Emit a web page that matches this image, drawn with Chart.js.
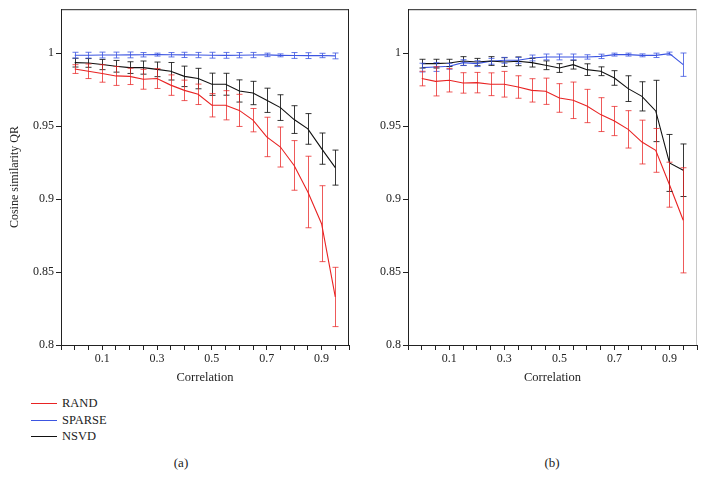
<!DOCTYPE html>
<html>
<head>
<meta charset="utf-8">
<script src="https://cdn.jsdelivr.net/npm/chart.js@4.4.1/dist/chart.umd.min.js"></script>
<style>
  body { margin: 0; background: #fff; width: 705px; height: 478px; overflow: hidden; position: relative; font-family: 'Liberation Serif', serif; color: #222; }
  .panel { position: absolute; top: 0; height: 392px; }
  #panelA { left: 0; width: 352px; }
  #panelB { left: 352px; width: 353px; }
  .legend { position: absolute; left: 31px; top: 395px; font-size: 12.5px; }
  .legend div { height: 16.5px; line-height: 16.5px; position: relative; padding-left: 31px; }
  .legend span { position: absolute; left: 0; top: 8px; width: 26px; height: 1px; }
  .caption { position: absolute; top: 455px; font-size: 13px; width: 40px; text-align: center; }
</style>
</head>
<body>
<div class="panel" id="panelA"><canvas id="chartA"></canvas></div>
<div class="panel" id="panelB"><canvas id="chartB"></canvas></div>

<div class="legend">
  <div><span style="background:rgb(232,35,35)"></span>RAND</div>
  <div><span style="background:rgb(60,85,225)"></span>SPARSE</div>
  <div><span style="background:#111"></span>NSVD</div>
</div>
<div class="caption" style="left:161px">(a)</div>
<div class="caption" style="left:532px">(b)</div>

<script>
// x values (correlation) and axis ticks
const correlation = [0, 0.05, 0.1, 0.15, 0.2, 0.25, 0.3, 0.35, 0.4, 0.45, 0.5, 0.55, 0.6, 0.65, 0.7, 0.75, 0.8, 0.85, 0.9, 0.95];
const xTicks = [-0.05, 0, 0.05, 0.1, 0.15, 0.2, 0.25, 0.3, 0.35, 0.4, 0.45, 0.5, 0.55, 0.6, 0.65, 0.7, 0.75, 0.8, 0.85, 0.9, 0.95, 1.0];
const xLabels = ['0.1', '0.3', '0.5', '0.7', '0.9'];
const yTicks = [0.8, 0.85, 0.9, 0.95, 1];

// panel (a)
const randA = [0.989, 0.9875, 0.986, 0.9843, 0.984, 0.982, 0.9825, 0.978, 0.9744, 0.9717, 0.9642, 0.9642, 0.9607, 0.954, 0.9425, 0.9356, 0.923, 0.9048, 0.8831, 0.8329];
const randAErr = [0.003, 0.005, 0.006, 0.0065, 0.0056, 0.0068, 0.0068, 0.007, 0.007, 0.007, 0.008, 0.01, 0.011, 0.008, 0.0135, 0.0137, 0.017, 0.0245, 0.026, 0.0203];
const sparseA = [0.9985, 0.9985, 0.9986, 0.9986, 0.9987, 0.9988, 0.9989, 0.9988, 0.9987, 0.9986, 0.9985, 0.9984, 0.9985, 0.9986, 0.9987, 0.9984, 0.9983, 0.9982, 0.9983, 0.998];
const sparseAErr = [0.002, 0.002, 0.002, 0.002, 0.002, 0.0015, 0.001, 0.0015, 0.0018, 0.0018, 0.002, 0.002, 0.0018, 0.0018, 0.0012, 0.001, 0.002, 0.002, 0.0015, 0.002];
const nsvdA = [0.9934, 0.9932, 0.9921, 0.9909, 0.990, 0.990, 0.9888, 0.9875, 0.984, 0.9825, 0.9786, 0.9786, 0.974, 0.9726, 0.9676, 0.9626, 0.9544, 0.948, 0.9345, 0.9215];
const nsvdAErr = [0.003, 0.003, 0.0035, 0.004, 0.004, 0.0045, 0.005, 0.006, 0.007, 0.007, 0.0076, 0.0075, 0.0076, 0.008, 0.0083, 0.0088, 0.0095, 0.0105, 0.0107, 0.012];

// panel (b)
const randB = [0.9825, 0.9806, 0.9813, 0.9795, 0.9797, 0.9786, 0.9786, 0.9767, 0.9744, 0.9738, 0.9692, 0.9676, 0.9637, 0.9578, 0.9534, 0.9477, 0.939, 0.9333, 0.9098, 0.8854];
const randBErr = [0.005, 0.01, 0.008, 0.007, 0.007, 0.0078, 0.0088, 0.0077, 0.008, 0.009, 0.0098, 0.0125, 0.0114, 0.0116, 0.01, 0.0128, 0.015, 0.015, 0.0154, 0.036];
const sparseB = [0.990, 0.9904, 0.9909, 0.9934, 0.9927, 0.9943, 0.995, 0.995, 0.9966, 0.9973, 0.9973, 0.9973, 0.9973, 0.9977, 0.9989, 0.9989, 0.9984, 0.9984, 0.9996, 0.992];
const sparseBErr = [0.003, 0.003, 0.002, 0.002, 0.002, 0.002, 0.002, 0.002, 0.002, 0.002, 0.002, 0.002, 0.0015, 0.0015, 0.001, 0.001, 0.001, 0.0015, 0.001, 0.008];
const nsvdB = [0.9927, 0.9927, 0.9932, 0.9945, 0.9938, 0.9945, 0.9938, 0.9943, 0.9934, 0.9916, 0.9897, 0.992, 0.9886, 0.9875, 0.9829, 0.9756, 0.9703, 0.9603, 0.9247, 0.9197];
const nsvdBErr = [0.003, 0.003, 0.0025, 0.003, 0.0025, 0.003, 0.003, 0.003, 0.003, 0.003, 0.003, 0.003, 0.004, 0.003, 0.005, 0.0088, 0.01, 0.021, 0.0195, 0.018];

Chart.defaults.font.family = "'Liberation Serif', serif";
Chart.defaults.font.size = 12;
Chart.defaults.color = '#222';

// error bars drawn from the dataset's errors through the scales
const errorBars = {
    id: 'errorBars',
    afterDatasetsDraw(chart) {
        const ctx = chart.ctx;
        const xs = chart.scales.x, ys = chart.scales.y;
        chart.data.datasets.forEach(ds => {
            ctx.save();
            ctx.strokeStyle = ds.barColor;
            ctx.lineWidth = 1;
            ds.data.forEach((p, i) => {
                const e = ds.errors[i];
                const x = Math.round(xs.getPixelForValue(p.x)) + 0.5;
                const y1 = ys.getPixelForValue(p.y + e);
                const y2 = ys.getPixelForValue(p.y - e);
                ctx.beginPath();
                ctx.moveTo(x, y1); ctx.lineTo(x, y2);
                ctx.moveTo(x - 3, y1); ctx.lineTo(x + 3, y1);
                ctx.moveTo(x - 3, y2); ctx.lineTo(x + 3, y2);
                ctx.stroke();
            });
            ctx.restore();
        });
    }
};

// top and right edges of the frame
const frame = {
    id: 'frame',
    afterDraw(chart, args, opts) {
        const a = chart.chartArea, ctx = chart.ctx;
        ctx.save();
        ctx.lineWidth = 1;
        ctx.strokeStyle = '#222';
        ctx.beginPath();
        ctx.moveTo(a.left, a.top + 0.5); ctx.lineTo(a.right, a.top + 0.5);
        ctx.stroke();
        ctx.strokeStyle = opts.rightColor;
        ctx.beginPath();
        ctx.moveTo(a.right - 0.5, a.top); ctx.lineTo(a.right - 0.5, a.bottom);
        ctx.stroke();
        ctx.restore();
    }
};

function series(values) {
    return values.map((v, i) => ({ x: correlation[i], y: v }));
}

function makeChart(id, rand, randErr, sparse, sparseErr, nsvd, nsvdErr, opt) {
    const ctx = document.getElementById(id).getContext('2d');
    return new Chart(ctx, {
        type: 'line',
        data: {
            datasets: [
                { label: 'NSVD', data: series(nsvd), errors: nsvdErr, borderColor: '#111', barColor: 'rgba(20,20,20,0.85)' },
                { label: 'SPARSE', data: series(sparse), errors: sparseErr, borderColor: 'rgb(60,85,225)', barColor: 'rgba(60,85,225,0.8)' },
                { label: 'RAND', data: series(rand), errors: randErr, borderColor: 'rgb(232,35,35)', barColor: 'rgba(232,35,35,0.75)' }
            ].map(d => Object.assign(d, { borderWidth: 1.1, pointRadius: 0, tension: 0, fill: false }))
        },
        options: {
            responsive: true,
            maintainAspectRatio: false,
            animation: false,
            layout: { padding: { top: 8, right: opt.padRight, left: 0, bottom: 0 } },
            plugins: {
                legend: { display: false },
                tooltip: { enabled: false },
                frame: { rightColor: opt.rightColor }
            },
            scales: {
                x: {
                    type: 'linear',
                    min: -0.05,
                    max: 1.0,
                    afterBuildTicks: s => { s.ticks = xTicks.map(v => ({ value: v })); },
                    afterFit: s => { s.height = 47; },
                    ticks: {
                        autoSkip: false,
                        maxRotation: 0,
                        padding: 2,
                        font: { size: 12 },
                        callback: v => {
                            const t = v.toFixed(1);
                            return (Math.abs(v - parseFloat(t)) < 1e-6 && xLabels.includes(t)) ? t : '';
                        }
                    },
                    grid: { drawOnChartArea: false, tickLength: 5, color: '#222' },
                    border: { color: '#222' },
                    title: { display: true, text: 'Correlation', font: { size: 12.5 }, padding: { top: 4, bottom: 7 } }
                },
                y: {
                    min: 0.8,
                    max: 1.03,
                    afterBuildTicks: s => { s.ticks = yTicks.map(v => ({ value: v })); },
                    afterFit: s => { s.width = opt.yWidth; },
                    ticks: { padding: 2, font: { size: 12 }, callback: v => String(v) },
                    grid: { drawOnChartArea: false, tickLength: 5, color: '#222' },
                    border: { color: '#222' },
                    title: { display: opt.yTitle, text: 'Cosine similarity QR', font: { size: 12 }, padding: { top: 8, bottom: 4 } }
                }
            }
        },
        plugins: [errorBars, frame]
    });
}

makeChart('chartA', randA, randAErr, sparseA, sparseAErr, nsvdA, nsvdAErr,
    { padRight: 3, yWidth: 61, yTitle: true, rightColor: '#222' });
makeChart('chartB', randB, randBErr, sparseB, sparseBErr, nsvdB, nsvdBErr,
    { padRight: 8, yWidth: 56, yTitle: false, rightColor: '#c8c8c8' });
</script>
</body>
</html>
